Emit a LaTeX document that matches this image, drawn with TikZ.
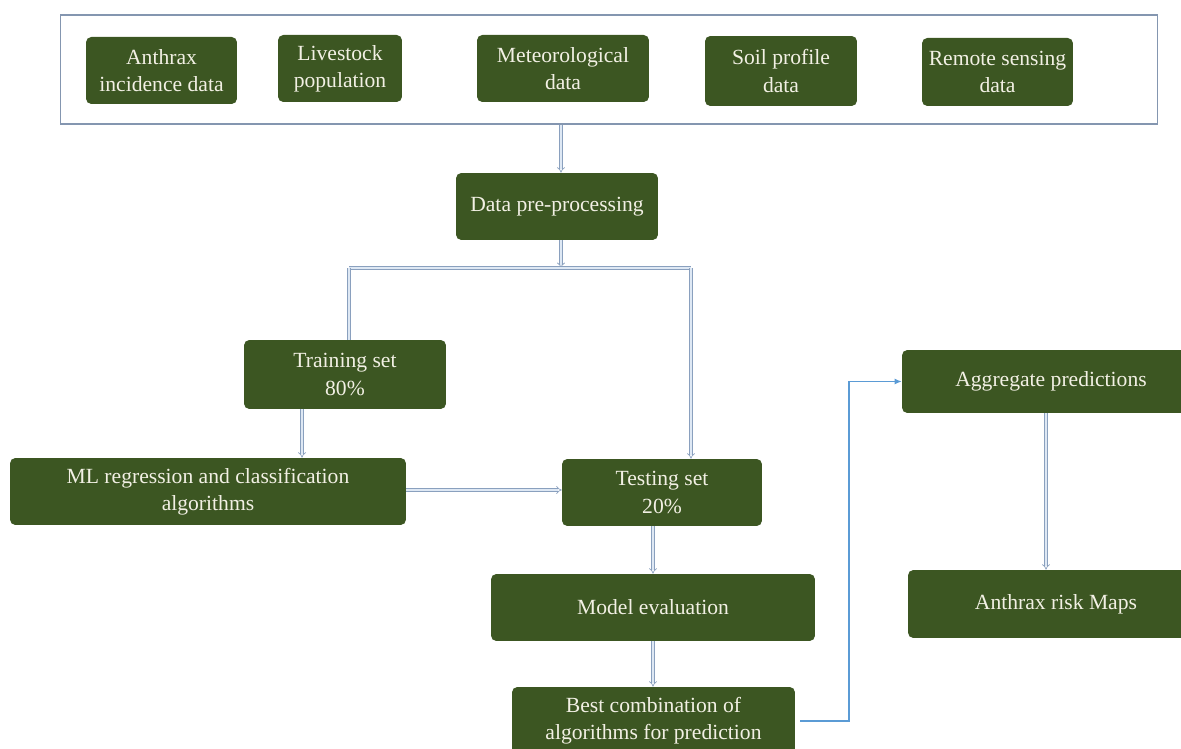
\documentclass[tikz,border=0pt]{standalone}
\usepackage{fontspec}
\setmainfont{Liberation Serif}
\newfontfamily\boxfont{Liberation Serif}
\usepackage{tikz}
\usetikzlibrary{arrows.meta,calc}
\definecolor{boxgreen}{RGB}{60,86,34}
\definecolor{boxtext}{RGB}{242,240,228}
\definecolor{framegray}{RGB}{132,150,176}
\definecolor{pipeedge}{RGB}{138,160,190}
\definecolor{pipefill}{RGB}{222,232,244}
\definecolor{feedblue}{RGB}{91,155,213}

\begin{document}
\begin{tikzpicture}[x=0.02cm, y=-0.02cm,
    box_style/.style={fill=boxgreen, rounded corners=3pt, text=boxtext, align=center,
        font=\boxfont\fontsize{12.3}{15.5}\selectfont, inner sep=0pt},
    frame_style/.style={draw=framegray, line width=0.6pt, inner sep=0pt},
    pipe_line/.style={draw=pipeedge, line width=0.4pt, double=pipefill, double distance=1.2pt},
    pipe_arrow/.style={pipe_line, -{Implies}},
    feed_arrow/.style={->, >={Latex[length=4pt,width=3.5pt]}, draw=feedblue, line width=0.7pt}
]
    % Page size
    \useasboundingbox (0,0) rectangle (1181,749);

    % Input data sources
    \node (input_frame) at (609,69.5) [frame_style, minimum width=21.96cm, minimum height=2.18cm] {};
    \node (anthrax_data) at (161.5,70.5) [box_style, minimum width=3.02cm, minimum height=1.34cm] {Anthrax\\incidence data};
    \node (livestock_data) at (340,68.5) [box_style, minimum width=2.48cm, minimum height=1.34cm] {Livestock\\population};
    \node (meteo_data) at (563,68.5) [box_style, minimum width=3.44cm, minimum height=1.34cm] {Meteorological\\data};
    \node (soil_data) at (781,71) [box_style, minimum width=3.04cm, minimum height=1.40cm] {Soil profile\\data};
    \node (remote_data) at (997.5,72) [box_style, minimum width=3.02cm, minimum height=1.36cm] {Remote sensing\\data};

    % Processing chain
    \node (preproc) at (557,206.5) [box_style, minimum width=4.04cm, minimum height=1.34cm] {Data pre-processing};
    \node (training_set) at (345,374.5) [box_style, minimum width=4.04cm, minimum height=1.38cm] {Training set\\80\%};
    \node (ml_algos) at (208,491.5) [box_style, minimum width=7.92cm, minimum height=1.34cm] {ML regression and classification\\algorithms};
    \node (testing_set) at (662,492.5) [box_style, minimum width=4.0cm, minimum height=1.34cm] {Testing set\\20\%};
    \node (model_eval) at (653,607.5) [box_style, minimum width=6.48cm, minimum height=1.34cm] {Model evaluation};
    \node (best_combo) at (653.5,721) [box_style, minimum width=5.66cm, minimum height=1.36cm] {Best combination of\\algorithms for prediction};

    % Prediction outputs
    \node (aggregate) at (1051,381.5) [box_style, minimum width=5.96cm, minimum height=1.26cm] {Aggregate predictions};
    \node (risk_maps) at (1056,604) [box_style, minimum width=5.92cm, minimum height=1.36cm] {Anthrax risk Maps};

    % Split points
    \coordinate (split_mid) at (561,268);
    \coordinate (split_left) at (349,268);
    \coordinate (split_right) at (691,268);
    \coordinate (feed_turn) at (849,381.5);

    % Connectors
    \draw[pipe_arrow] (input_frame.south -| split_mid) -- (preproc.north -| split_mid);
    \draw[pipe_arrow] (preproc.south -| split_mid) -- (split_mid);
    \draw[pipe_line] (split_left) -- (split_right);
    \draw[pipe_line] (split_left) -- (training_set.north -| split_left);
    \draw[pipe_arrow] (split_right) -- (testing_set.north -| split_right);
    \draw[pipe_arrow] ([xshift=-0.86cm]training_set.south) -- ([xshift=-0.86cm]training_set.south |- ml_algos.north);
    \draw[pipe_arrow] (ml_algos.east |- 0,490) -- (testing_set.west |- 0,490);
    \draw[pipe_arrow] (model_eval.north |- testing_set.south) -- (model_eval.north);
    \draw[pipe_arrow] (model_eval.south) -- (best_combo.north -| model_eval.south);
    \draw[feed_arrow] ([xshift=0.1cm]best_combo.east) -| (feed_turn) -- (aggregate.west);
    \draw[pipe_arrow] ([xshift=-0.1cm]aggregate.south) -- ([xshift=-0.1cm]aggregate.south |- risk_maps.north);

\end{tikzpicture}
\end{document}
